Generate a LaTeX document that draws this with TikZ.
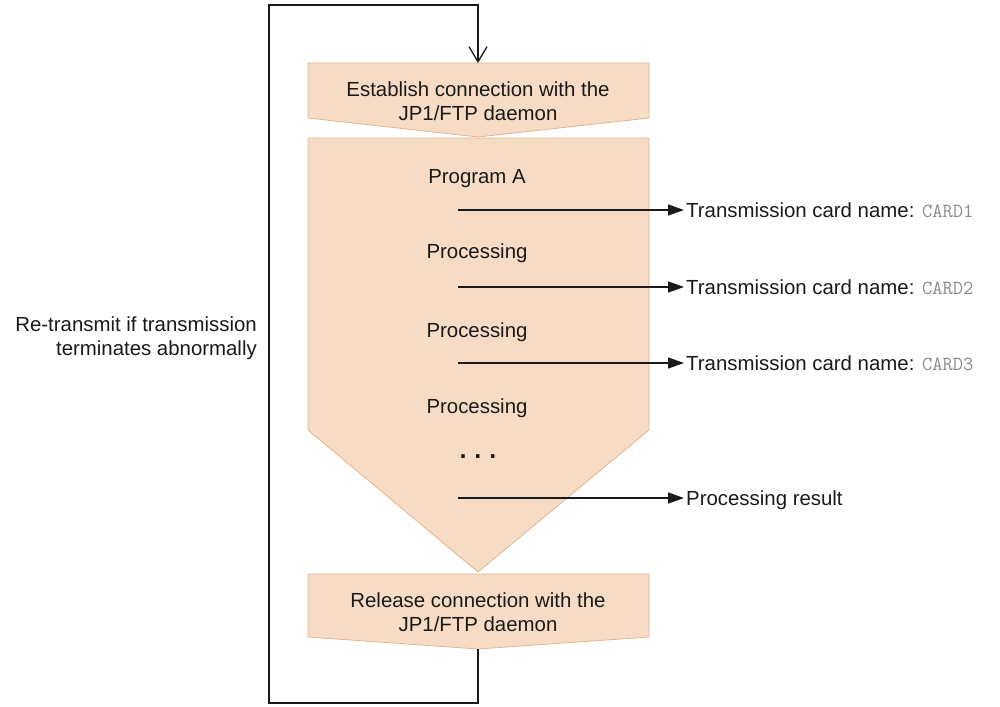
\documentclass[tikz,border=0pt]{standalone}
\usepackage{fontspec}
\setmainfont{Liberation Sans}
\usepackage{xcolor}
\usepackage{tikz}
\usetikzlibrary{arrows.meta,positioning}
\definecolor{peach}{HTML}{F6DCC5}
\definecolor{peachd}{HTML}{E4B690}
\definecolor{ink}{HTML}{1A1A1A}
\definecolor{cardg}{HTML}{8C8C8C}
\newcommand{\card}[1]{\textcolor{cardg}{\ttfamily\fontsize{20}{22}\selectfont #1}}

\begin{document}
\begin{tikzpicture}[x=1pt,y=-1pt, font=\fontsize{20.4}{24}\selectfont,
   blk/.style={draw=peachd,fill=peach,line width=0.8pt,line join=round},
   txt/.style={align=center,inner sep=0pt,text=ink},
   lbl/.style={anchor=west,inner sep=2pt,text height=14.5pt,text depth=0pt,text=ink},
   fl/.style={-{Triangle[length=16pt,width=11pt]},draw=ink,line width=1.3pt},
   loop/.style={-{Straight Barb[length=15pt,width=18pt]},draw=ink,line width=1.3pt}]
  \useasboundingbox (0,0) rectangle (1000,706);
  % blocks
  \path[blk] (308,63) -- (649,63) -- (649,118) -- (478,137) -- (308,118) -- cycle;
  \path[blk] (308,138) -- (649,138) -- (649,430) -- (478,572) -- (308,430) -- cycle;
  \path[blk] (308,574) -- (649,574) -- (649,637) -- (478,649) -- (308,637) -- cycle;
  \coordinate (estTop) at (478,63);
  \coordinate (relTip) at (478,649);
  \node[txt] (est) at (478,101) {Establish connection with the\\JP1/FTP daemon};
  \node[txt] (rel) at (478,612) {Release connection with the\\JP1/FTP daemon};
  % program
  \node[txt,anchor=base] (prog) at (477,183) {Program A};
  \node[txt,anchor=base] (proc1) at (477,258) {Processing};
  \node[txt,anchor=base] (proc2) at (477,337) {Processing};
  \node[txt,anchor=base] (proc3) at (477,413) {Processing};
  \node[txt,font=\fontsize{36}{36}\selectfont] (dots) at (478,457) {.\hspace{5pt}.\hspace{5pt}.};
  % outputs
  \coordinate (s1) at (458,210);
  \coordinate (s2) at (458,287);
  \coordinate (s3) at (458,363);
  \coordinate (s4) at (458,498);
  \node[lbl] (c1) at (684,210) {Transmission card name: \card{CARD1}};
  \node[lbl] (c2) at (684,287) {Transmission card name: \card{CARD2}};
  \node[lbl] (c3) at (684,363) {Transmission card name: \card{CARD3}};
  \node[lbl] (res) at (684,498) {Processing result};
  \draw[fl] (s1)--(c1.west); \draw[fl] (s2)--(c2.west);
  \draw[fl] (s3)--(c3.west); \draw[fl] (s4)--(res.west);
  % retry loop
  \node[txt,align=right,anchor=east] (retry) at (257,338) {Re-transmit if transmission\\terminates abnormally};
  \draw[loop] (relTip) -- ++(0,54) -| (269,5) -| (estTop);
\end{tikzpicture}
\end{document}
